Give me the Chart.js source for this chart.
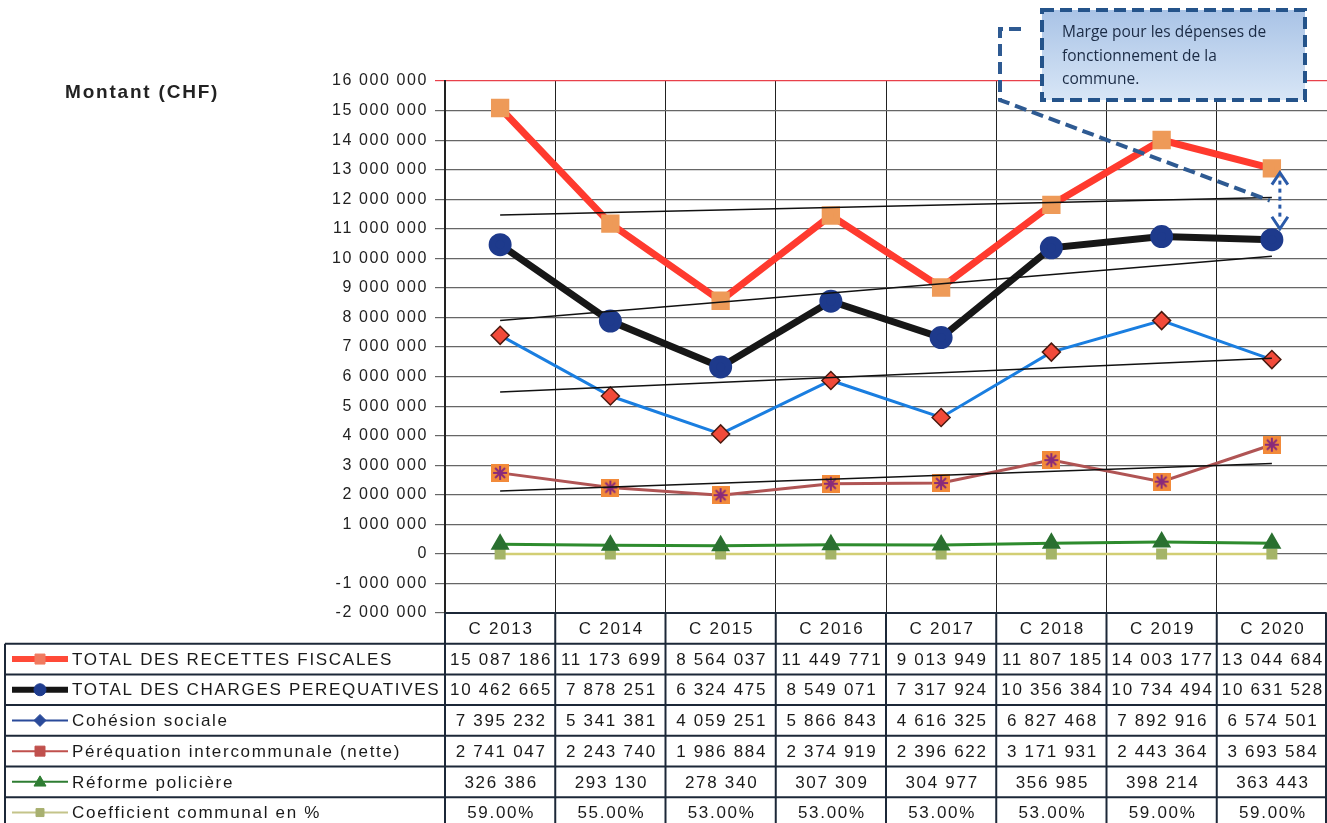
<!DOCTYPE html>
<html>
<head>
<meta charset="utf-8">
<script src="https://cdn.jsdelivr.net/npm/chart.js@4"></script>
<style>
  html, body { margin: 0; background: #fff; overflow: hidden; }
  #grafica { display: block; }
</style>
</head>
<body>
<canvas id="grafica" width="1327" height="823"></canvas>
<script>
// donnees
const annees = ["C 2013", "C 2014", "C 2015", "C 2016", "C 2017", "C 2018", "C 2019", "C 2020"];
const recettes = [15087186, 11173699, 8564037, 11449771, 9013949, 11807185, 14003177, 13044684];
const charges = [10462665, 7878251, 6324475, 8549071, 7317924, 10356384, 10734494, 10631528];
const cohesion = [7395232, 5341381, 4059251, 5866843, 4616325, 6827468, 7892916, 6574501];
const perequation = [2741047, 2243740, 1986884, 2374919, 2396622, 3171931, 2443364, 3693584];
const reforme = [326386, 293130, 278340, 307309, 304977, 356985, 398214, 363443];
const coefficient = [59, 55, 53, 53, 53, 53, 59, 59];

// droites de tendance (extremites)
const tendRecettes = [11470000, null, null, null, null, null, null, 12060000];
const tendCharges = [7900000, null, null, null, null, null, null, 10070000];
const tendCohesion = [5480000, null, null, null, null, null, null, 6620000];
const tendPerequation = [2130000, null, null, null, null, null, null, 3060000];

const libelles = [
  "TOTAL DES RECETTES FISCALES",
  "TOTAL DES CHARGES PEREQUATIVES",
  "Cohésion sociale",
  "Péréquation intercommunale (nette)",
  "Réforme policière",
  "Coefficient communal en %"
];

function fmt(v) {
  const s = Math.abs(v).toString().replace(/\B(?=(\d{3})+(?!\d))/g, " ");
  return (v < 0 ? "-" : "") + s;
}

// marqueur carre orange avec etoile pour la perequation
function marqueEtoile(taille) {
  const c = document.createElement("canvas");
  c.width = taille; c.height = taille;
  const g = c.getContext("2d");
  g.fillStyle = "#f28a3a";
  g.fillRect(0, 0, taille, taille);
  g.strokeStyle = "#8a2a7a";
  g.lineWidth = 2;
  const m = taille / 2, r = taille / 2 - 2;
  g.beginPath();
  for (let k = 0; k < 4; k++) {
    const a = k * Math.PI / 4;
    g.moveTo(m - r * Math.cos(a), m - r * Math.sin(a));
    g.lineTo(m + r * Math.cos(a), m + r * Math.sin(a));
  }
  g.stroke();
  return c;
}

function tendance(data) {
  return {
    data: data, borderColor: "#111", borderWidth: 1.5, pointRadius: 0,
    spanGaps: true, order: 0, fill: false
  };
}

function dessinerMarque(g, style, x, y, s, fond, bord) {
  g.save();
  g.fillStyle = fond; g.strokeStyle = bord; g.lineWidth = 1;
  g.beginPath();
  if (style === "rect") g.rect(x - s, y - s, 2 * s, 2 * s);
  else if (style === "circle") g.arc(x, y, s, 0, Math.PI * 2);
  else if (style === "rectRot") { g.moveTo(x, y - s); g.lineTo(x + s, y); g.lineTo(x, y + s); g.lineTo(x - s, y); g.closePath(); }
  else if (style === "triangle") { g.moveTo(x, y - s); g.lineTo(x + s, y + s * 0.7); g.lineTo(x - s, y + s * 0.7); g.closePath(); }
  g.fill(); g.stroke();
  g.restore();
}

const decor = {
  id: "decor",
  beforeDraw(chart) {
    chart.ctx.letterSpacing = "1.6px";
  },
  afterDraw(chart) {
    const g = chart.ctx;
    const a = chart.chartArea;
    const xs = chart.scales.x, ys = chart.scales.y;
    const colW = (a.right - a.left) / annees.length;
    const haut = a.bottom, ligneH = 30.7;

    g.save();
    // titre de l'axe
    g.letterSpacing = "1.8px";
    g.fillStyle = "#222";
    g.font = "bold 19px 'Liberation Sans', Arial";
    g.textBaseline = "middle";
    g.textAlign = "left";
    g.fillText("Montant (CHF)", 65, 93);

    // tableau de donnees
    g.strokeStyle = "#1c2838";
    g.lineWidth = 2;
    const bas = haut + ligneH * 7;
    for (let r = 0; r <= 7; r++) {
      const y = haut + r * ligneH;
      g.beginPath();
      g.moveTo(r === 0 ? a.left : 5, y);
      g.lineTo(a.right - 1, y);
      g.stroke();
    }
    for (let i = 0; i <= annees.length; i++) {
      const x = Math.min(a.left + i * colW, a.right - 1);
      g.beginPath(); g.moveTo(x, haut); g.lineTo(x, bas); g.stroke();
    }
    g.beginPath(); g.moveTo(5, haut + ligneH); g.lineTo(5, bas); g.stroke();

    g.letterSpacing = "1.7px";
    g.font = "17px 'Liberation Sans', Arial";
    g.fillStyle = "#1a1a1a";
    g.textAlign = "center";
    const lignes = [recettes, charges, cohesion, perequation, reforme];
    annees.forEach((an, i) => {
      const cx = xs.getPixelForValue(i) + 1;
      g.fillText(an, cx, haut + ligneH * 0.5 + 1);
      lignes.forEach((serie, r) => {
        g.fillText(fmt(serie[i]), cx, haut + ligneH * (r + 1.5) + 1);
      });
      g.fillText(coefficient[i].toFixed(2) + "%", cx, haut + ligneH * 6.5 + 1);
    });

    // legende dans la premiere colonne
    const legendes = [
      { c: "#ff4a38", w: 6, m: "rect", f: "#f07a60", s: 5 },
      { c: "#151515", w: 6, m: "circle", f: "#1f3c8e", s: 6 },
      { c: "#2a4a9a", w: 2, m: "rectRot", f: "#2a4a9a", s: 6 },
      { c: "#c0504d", w: 2, m: "rect", f: "#c0504d", s: 5 },
      { c: "#2e7d32", w: 2, m: "triangle", f: "#2e7d32", s: 6 },
      { c: "#c4c48a", w: 2, m: "rect", f: "#a8b070", s: 4 }
    ];
    g.textAlign = "left";
    legendes.forEach((l, r) => {
      const y = haut + ligneH * (r + 1.5);
      g.strokeStyle = l.c; g.lineWidth = l.w;
      g.beginPath(); g.moveTo(12, y); g.lineTo(68, y); g.stroke();
      dessinerMarque(g, l.m, 40, y, l.s, l.f, l.f);
      g.fillStyle = "#1a1a1a";
      g.fillText(libelles[r], 72, y + 1);
    });

    // annotation
    const bx = 1042, by = 10, bw = 263, bh = 90;
    const grad = g.createLinearGradient(0, by, 0, by + bh);
    grad.addColorStop(0, "#a9c3e6");
    grad.addColorStop(1, "#d8e6f6");
    g.fillStyle = grad;
    g.fillRect(bx, by, bw, bh);
    g.setLineDash([12, 6]);
    g.strokeStyle = "#24538a";
    g.lineWidth = 4;
    g.strokeRect(bx, by, bw, bh);
    g.letterSpacing = "0px";
    g.fillStyle = "#1b2b45";
    g.font = "15.5px 'Open Sans', 'Noto Sans'";
    g.fillText("Marge pour les dépenses de", 1062, 33);
    g.fillText("fonctionnement de la", 1062, 57);
    g.fillText("commune.", 1062, 80);

    const xFin = xs.getPixelForValue(7) - 2;
    const yFin = ys.getPixelForValue(11950000);
    g.strokeStyle = "#2e5a92";
    g.beginPath();
    g.moveTo(1021, 29); g.lineTo(1000, 29); g.lineTo(1000, 100);
    g.lineTo(xFin, yFin);
    g.stroke();

    // fleche double pointillee
    const xf = xs.getPixelForValue(7) + 8;
    const yh = ys.getPixelForValue(12900000), yb = ys.getPixelForValue(11000000);
    g.setLineDash([4, 4]);
    g.lineWidth = 3;
    g.strokeStyle = "#2a5aa8";
    g.beginPath(); g.moveTo(xf, yh + 8); g.lineTo(xf, yb - 8); g.stroke();
    g.setLineDash([]);
    g.beginPath();
    g.moveTo(xf - 8, yh + 12); g.lineTo(xf, yh); g.lineTo(xf + 8, yh + 12);
    g.moveTo(xf - 8, yb - 12); g.lineTo(xf, yb); g.lineTo(xf + 8, yb - 12);
    g.stroke();
    g.restore();
  }
};

function prepararConfig() {
  return {
    type: "line",
    data: {
      labels: annees,
      datasets: [
        tendance(tendRecettes),
        tendance(tendCharges),
        tendance(tendCohesion),
        tendance(tendPerequation),
        {
          label: libelles[0], data: recettes, borderColor: "#ff3a2e", borderWidth: 7,
          pointStyle: "rect", pointRadius: 8, pointBackgroundColor: "#ee9a58",
          pointBorderColor: "#ee9a58", order: 1
        },
        {
          label: libelles[1], data: charges, borderColor: "#171717", borderWidth: 7,
          pointStyle: "circle", pointRadius: 8, pointBackgroundColor: "#1e3a8c",
          pointBorderColor: "#1e3a8c", order: 2
        },
        {
          label: libelles[2], data: cohesion, borderColor: "#1a7ee0", borderWidth: 3,
          pointStyle: "rectRot", pointRadius: 9, pointBackgroundColor: "#f24a3a",
          pointBorderColor: "#4a1a10", pointBorderWidth: 1.5, order: 3
        },
        {
          label: libelles[3], data: perequation, borderColor: "#b05454", borderWidth: 3,
          pointStyle: marqueEtoile(18), order: 4
        },
        {
          label: libelles[4], data: reforme, borderColor: "#2e8b2e", borderWidth: 3,
          pointStyle: "triangle", pointRadius: 8, pointBackgroundColor: "#2a7030",
          pointBorderColor: "#2a7030", order: 5
        },
        {
          label: libelles[5], data: coefficient, borderColor: "#d2ce74", borderWidth: 2.5,
          pointStyle: "rect", pointRadius: 6, pointBackgroundColor: "#a4b468",
          pointBorderColor: "#a4b468", order: 6
        }
      ]
    },
    options: {
      responsive: false,
      animation: false,
      devicePixelRatio: 1,
      layout: { autoPadding: false, padding: { top: 81, left: 0, right: 0, bottom: 0 } },
      plugins: { legend: { display: false }, tooltip: { enabled: false } },
      scales: {
        x: {
          offset: true,
          grid: { color: "#222", lineWidth: 1, offset: true, drawTicks: false },
          border: { display: false },
          ticks: { display: false },
          afterFit(scale) { scale.height = 210; }
        },
        y: {
          min: -2000000, max: 16000000,
          grid: {
            color: (c) => (c.tick && c.tick.value === 16000000 ? "#e8404a" : "#666"),
            lineWidth: 1.2, tickLength: 10
          },
          border: { color: "#222", width: 2 },
          ticks: {
            stepSize: 1000000, padding: 7, color: "#222",
            font: { family: "'Liberation Sans', Arial", size: 16 },
            callback: (v) => fmt(v)
          },
          afterFit(scale) { scale.width = 445; }
        }
      }
    },
    plugins: [decor]
  };
}

function renderGrafica() {
  const config = prepararConfig();
  new Chart(document.getElementById("grafica"), config);
}

renderGrafica();
</script>
</body>
</html>
